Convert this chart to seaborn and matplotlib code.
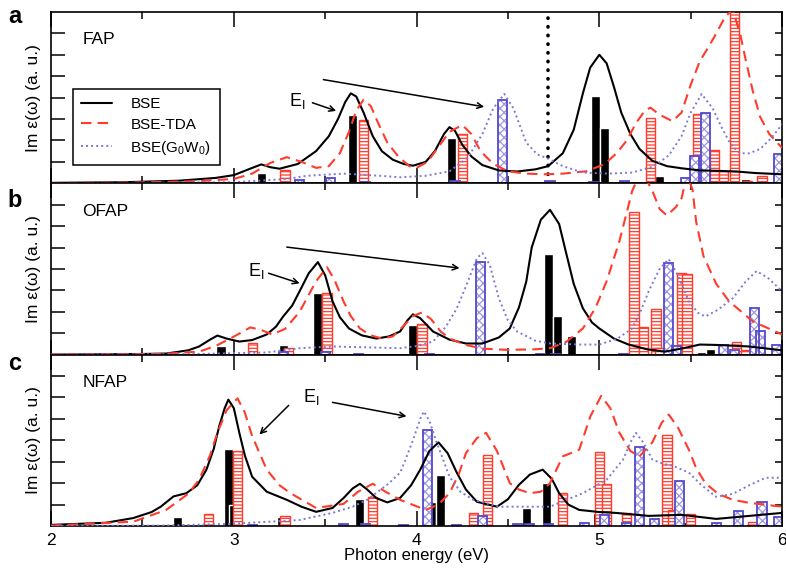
import seaborn as sns
import matplotlib.pyplot as plt
from matplotlib.ticker import MultipleLocator, FixedLocator

sns.set_style('ticks')
plt.rcParams['font.family'] = ['Liberation Sans', 'DejaVu Sans']
plt.rcParams['hatch.linewidth'] = 0.9
plt.rcParams['mathtext.fontset'] = 'custom'
plt.rcParams['mathtext.rm'] = 'Liberation Sans'
for key in ['text.color', 'axes.labelcolor', 'xtick.color', 'ytick.color', 'axes.edgecolor']:
    plt.rcParams[key] = 'black'

RED = '#ff3b2b'
BLUE_LINE = '#7c78d8'
BLUE_BAR = '#5448cc'
BLUE_HATCH = '#9c97e2'

# ---- panel a (FAP) ----
a_bse_x = [2.0, 2.4, 2.7, 2.9, 3.0, 3.08, 3.15, 3.2, 3.25, 3.35, 3.45, 3.52, 3.57, 3.61, 3.64, 3.67, 3.71,
           3.76, 3.81, 3.87, 3.93, 3.98, 4.05, 4.1, 4.15, 4.18, 4.21, 4.25, 4.3, 4.36, 4.45, 4.55, 4.65,
           4.72, 4.8, 4.86, 4.91, 4.95, 5.0, 5.04, 5.08, 5.12, 5.17, 5.22, 5.29, 5.37, 5.45, 5.55, 5.65,
           5.75, 5.85, 6.0]
a_bse_y = [0.02, 0.05, 0.12, 0.25, 0.38, 0.65, 0.88, 0.75, 0.68, 0.9, 1.5, 2.2, 3.0, 3.8, 4.2, 4.05, 3.3,
           2.2, 1.5, 1.1, 0.9, 0.82, 1.0, 1.5, 2.3, 2.62, 2.45, 1.8, 1.25, 0.85, 0.6, 0.55, 0.65,
           0.8, 1.4, 2.5, 4.2, 5.4, 6.0, 5.6, 4.5, 3.3, 2.3, 1.6, 1.05, 0.8, 0.7, 0.6, 0.58,
           0.55, 0.48, 0.42]
a_tda_x = [2.0, 2.5, 2.8, 3.0, 3.1, 3.2, 3.29, 3.37, 3.45, 3.52, 3.58, 3.63, 3.67, 3.71, 3.75, 3.79, 3.84,
           3.9, 3.96, 4.0, 4.06, 4.12, 4.18, 4.25, 4.3, 4.35, 4.42, 4.5, 4.6, 4.7, 4.8, 4.93, 5.03, 5.1,
           5.15, 5.2, 5.25, 5.28, 5.33, 5.4, 5.45, 5.5, 5.55, 5.6, 5.64, 5.69, 5.73, 5.77, 5.8, 5.84,
           5.88, 5.93, 6.0]
a_tda_y = [0.01, 0.04, 0.1, 0.2, 0.45, 0.95, 1.22, 1.0, 0.72, 0.8, 1.4, 2.4, 3.4, 3.9, 3.6, 2.8, 1.9,
           1.25, 0.8, 0.72, 1.0, 1.7, 2.4, 2.72, 2.3, 1.5, 0.9, 0.56, 0.45, 0.42, 0.45, 0.56, 0.9, 1.45,
           2.0, 2.8, 3.4, 3.53, 3.2, 2.9, 3.3, 4.6, 5.7, 6.4, 7.0, 7.8, 8.1, 7.0, 5.8, 4.3,
           3.1, 2.3, 1.65]
a_gw_x = [2.0, 3.0, 3.29, 3.4, 3.6, 3.8, 3.91, 4.05, 4.18, 4.28, 4.36, 4.42, 4.48, 4.53, 4.6, 4.66, 4.72,
          4.8, 4.91, 5.05, 5.18, 5.3, 5.38, 5.45, 5.5, 5.56, 5.62, 5.67, 5.72, 5.77, 5.82, 5.88, 5.94, 6.0]
a_gw_y = [0.0, 0.05, 0.2, 0.35, 0.45, 0.35, 0.28, 0.35, 0.56, 1.2, 2.3, 3.5, 4.17, 3.5, 1.9, 1.35, 1.15,
          0.8, 0.5, 0.45, 0.5, 0.8, 1.3, 2.2, 3.3, 4.17, 3.5, 2.6, 1.8, 1.4, 1.4, 1.6, 2.1, 2.75]
a_bar_bse_x = [3.15, 3.65, 4.19, 4.98, 5.03, 5.33, 5.80, 5.85]
a_bar_bse_h = [0.47, 3.17, 2.13, 4.08, 2.6, 0.33, 0.19, 0.1]
a_bar_tda_x = [3.28, 3.71, 4.25, 5.28, 5.54, 5.63, 5.68, 5.74, 5.81, 5.89]
a_bar_tda_h = [0.6, 2.95, 2.3, 3.05, 3.22, 1.55, 0.56, 8.5, 0.1, 0.33]
a_bar_gw_x = [3.36, 3.53, 3.72, 4.21, 4.47, 4.73, 4.97, 5.14, 5.47, 5.52, 5.58, 5.98]
a_bar_gw_h = [0.14, 0.25, 0.05, 0.1, 3.9, 0.12, 0.05, 0.12, 0.25, 1.27, 3.3, 1.35]

# ---- panel b (OFAP) ----
b_bse_x = [2.0, 2.5, 2.63, 2.75, 2.81, 2.87, 2.91, 2.96, 3.03, 3.1, 3.18, 3.23, 3.27, 3.32, 3.36, 3.41,
           3.46, 3.5, 3.54, 3.58, 3.63, 3.7, 3.78, 3.85, 3.91, 3.95, 3.98, 4.02, 4.09, 4.18, 4.27, 4.36,
           4.45, 4.51, 4.56, 4.6, 4.63, 4.68, 4.73, 4.78, 4.82, 4.86, 4.91, 4.96, 5.0, 5.08, 5.16, 5.26,
           5.36, 5.46, 5.55, 5.65, 5.82, 6.0]
b_bse_y = [0.0, 0.03, 0.05, 0.2, 0.38, 0.7, 0.89, 0.75, 0.61, 0.68, 0.94, 1.3, 1.78, 2.3, 2.96, 3.8,
           4.32, 3.7, 2.49, 1.75, 1.22, 0.9, 0.75, 0.85, 1.08, 1.6, 1.88, 1.7, 1.08, 0.7, 0.52, 0.52,
           0.8, 1.22, 2.2, 3.4, 5.0, 6.3, 6.76, 6.1, 4.69, 3.3, 2.16, 1.5, 1.22, 0.75, 0.47, 0.25,
           0.14, 0.3, 0.47, 0.45, 0.38, 0.2]
b_tda_x = [2.0, 2.6, 2.81, 2.9, 3.0, 3.09, 3.15, 3.21, 3.28, 3.36, 3.45, 3.51, 3.55, 3.6, 3.64, 3.69,
           3.75, 3.81, 3.87, 3.93, 3.98, 4.03, 4.08, 4.13, 4.18, 4.27, 4.36, 4.5, 4.65, 4.73, 4.82, 4.91,
           4.98, 5.04, 5.11, 5.18, 5.23, 5.29, 5.33, 5.37, 5.42, 5.45, 5.48, 5.51, 5.53, 5.57, 5.64,
           5.71, 5.84, 6.0]
b_tda_y = [0.0, 0.03, 0.14, 0.4, 0.84, 1.27, 1.15, 0.94, 1.2, 2.0, 3.43, 4.08, 3.5, 2.49, 1.8, 1.22,
           0.9, 0.75, 0.85, 1.35, 1.8, 1.97, 1.65, 1.1, 0.75, 0.45, 0.28, 0.22, 0.25, 0.3, 0.6, 1.22,
           2.2, 3.43, 5.3, 7.65, 8.6, 7.65, 6.8, 6.5, 6.9, 7.3, 8.4, 7.7, 6.2, 4.6, 3.3,
           2.49, 1.55, 0.94]
b_gw_x = [2.0, 2.8, 3.18, 3.36, 3.54, 3.91, 4.0, 4.09, 4.16, 4.22, 4.28, 4.33, 4.36, 4.4, 4.45, 4.5,
          4.55, 4.65, 4.73, 4.9, 5.0, 5.1, 5.18, 5.23, 5.27, 5.33, 5.38, 5.43, 5.49, 5.54, 5.58, 5.65,
          5.73, 5.8, 5.86, 5.92, 6.0]
b_gw_y = [0.0, 0.03, 0.1, 0.3, 0.38, 0.3, 0.4, 0.61, 1.3, 2.16, 3.4, 4.5, 4.74, 4.2, 2.63, 1.6,
          1.08, 0.65, 0.52, 0.47, 0.47, 0.75, 1.22, 2.1, 2.96, 4.0, 4.46, 3.7, 2.49, 1.95, 1.78, 2.1,
          2.63, 3.4, 3.9, 3.6, 2.96]
b_bar_bse_x = [2.93, 3.27, 3.46, 3.98, 4.72, 4.77, 4.85, 5.56, 5.61]
b_bar_bse_h = [0.42, 0.47, 2.9, 1.36, 4.7, 1.78, 0.89, 0.1, 0.25]
b_bar_tda_x = [3.10, 3.30, 3.51, 4.03, 5.19, 5.24, 5.31, 5.33, 5.45, 5.48, 5.75, 5.80]
b_bar_tda_h = [0.56, 0.3, 2.86, 1.45, 6.67, 1.27, 2.11, 0.3, 3.8, 3.75, 0.61, 0.2]
b_bar_gw_x = [3.27, 3.50, 3.68, 4.07, 4.35, 4.68, 4.76, 5.13, 5.38, 5.42, 5.68, 5.74, 5.85, 5.88, 5.97]
b_bar_gw_h = [0.1, 0.1, 0.05, 0.05, 4.32, 0.05, 0.05, 0.05, 4.27, 0.42, 0.47, 0.2, 2.16, 1.08, 0.47]

# ---- panel c (NFAP) ----
c_bse_x = [2.0, 2.3, 2.45, 2.55, 2.6, 2.67, 2.74, 2.8, 2.85, 2.89, 2.92, 2.95, 2.97, 3.0, 3.03, 3.06,
           3.1, 3.18, 3.29, 3.37, 3.45, 3.54, 3.6, 3.65, 3.69, 3.73, 3.78, 3.84, 3.91, 3.97, 4.02, 4.07,
           4.12, 4.17, 4.22, 4.27, 4.33, 4.44, 4.5, 4.56, 4.62, 4.69, 4.74, 4.78, 4.83, 4.89, 5.0, 5.09,
           5.27, 5.45, 5.64, 5.82, 6.0]
c_bse_y = [0.05, 0.15, 0.37, 0.65, 0.9, 1.38, 1.53, 1.9, 2.63, 3.6, 4.66, 5.5, 5.9, 5.5, 4.35, 3.3,
           2.3, 1.6, 1.22, 0.9, 0.66, 0.84, 1.3, 1.75, 1.97, 1.7, 1.3, 1.1, 1.31, 1.9, 2.63, 3.5,
           3.9, 3.4, 2.49, 1.7, 1.13, 0.9, 1.25, 1.92, 2.4, 2.63, 2.2, 1.53, 1.0, 0.75, 0.65, 0.61,
           0.47, 0.52, 0.33, 0.47, 0.61]
c_tda_x = [2.0, 2.45, 2.63, 2.75, 2.81, 2.87, 2.91, 2.96, 3.02, 3.06, 3.1, 3.18, 3.25, 3.31, 3.45, 3.6,
           3.68, 3.76, 3.83, 3.91, 4.05, 4.12, 4.18, 4.23, 4.27, 4.33, 4.38, 4.44, 4.51, 4.56, 4.62,
           4.68, 4.73, 4.8, 4.89, 4.95, 5.01, 5.06, 5.11, 5.17, 5.22, 5.29, 5.34, 5.38, 5.43, 5.49,
           5.53, 5.58, 5.65, 5.73, 5.82, 6.0]
c_tda_y = [0.02, 0.2, 0.75, 1.5, 2.16, 3.3, 4.35, 5.4, 5.96, 5.3, 4.2, 2.63, 1.9, 1.53, 0.84, 1.03,
           1.6, 1.97, 1.6, 1.22, 0.75, 1.0, 1.53, 2.4, 3.4, 4.1, 4.35, 3.5, 2.0, 1.7, 1.53,
           1.6, 2.0, 3.25, 3.56, 5.1, 6.07, 5.5, 4.35, 3.5, 3.25, 3.9, 4.8, 5.2, 4.6, 3.56,
           2.7, 2.0, 1.5, 1.22, 1.08, 0.9]
c_gw_x = [2.0, 2.6, 2.99, 3.36, 3.54, 3.65, 3.73, 3.85, 3.91, 3.94, 3.98, 4.02, 4.04, 4.07, 4.11, 4.18,
          4.24, 4.31, 4.45, 4.6, 4.73, 4.91, 5.04, 5.13, 5.17, 5.2, 5.24, 5.29, 5.35, 5.4, 5.49, 5.56,
          5.64, 5.73, 5.82, 5.91, 6.0]
c_gw_y = [0.0, 0.02, 0.1, 0.28, 0.61, 0.9, 1.22, 2.0, 2.49, 3.1, 4.0, 5.0, 5.35, 4.9, 3.9, 2.3,
          1.6, 1.22, 0.9, 0.9, 0.9, 1.53, 2.16, 3.1, 3.9, 4.35, 3.9, 3.1, 2.9, 2.82, 2.49, 1.9,
          1.36, 1.5, 1.9, 2.25, 2.25]
c_bar_bse_x = [2.69, 2.97, 3.00, 3.12, 3.26, 3.69, 4.08, 4.13, 4.60, 4.71, 4.99, 5.47, 5.83]
c_bar_bse_h = [0.42, 3.6, 1.0, 0.05, 0.4, 1.27, 1.13, 2.4, 0.84, 2.0, 0.6, 0.2, 0.1]
c_bar_tda_x = [2.86, 3.02, 3.28, 3.76, 4.31, 4.39, 4.80, 5.00, 5.04, 5.15, 5.37, 5.40, 5.50, 5.84]
c_bar_tda_h = [0.56, 3.52, 0.47, 1.36, 0.61, 3.3, 1.53, 3.47, 1.97, 0.6, 4.27, 0.75, 0.56, 0.2]
c_bar_gw_x = [3.1, 3.6, 3.72, 3.93, 4.06, 4.22, 4.36, 4.55, 4.62, 4.72, 4.92, 5.03, 5.15, 5.22, 5.30,
              5.44, 5.64, 5.76, 5.89, 5.98]
c_bar_gw_h = [0.05, 0.1, 0.1, 0.05, 4.5, 0.05, 0.47, 0.1, 0.1, 0.1, 0.15, 0.52, 0.15, 3.7, 0.33,
              2.1, 0.15, 0.7, 1.13, 0.4]

panel_names = ['FAP', 'OFAP', 'NFAP']
panel_letters = ['a', 'b', 'c']
series_labels = ['BSE', 'BSE-TDA', r'BSE(G$_0$W$_0$)']
x_ticks = [2, 3, 4, 5, 6]

panels = [
    (a_bse_x, a_bse_y, a_tda_x, a_tda_y, a_gw_x, a_gw_y,
     a_bar_bse_x, a_bar_bse_h, a_bar_tda_x, a_bar_tda_h, a_bar_gw_x, a_bar_gw_h),
    (b_bse_x, b_bse_y, b_tda_x, b_tda_y, b_gw_x, b_gw_y,
     b_bar_bse_x, b_bar_bse_h, b_bar_tda_x, b_bar_tda_h, b_bar_gw_x, b_bar_gw_h),
    (c_bse_x, c_bse_y, c_tda_x, c_tda_y, c_gw_x, c_gw_y,
     c_bar_bse_x, c_bar_bse_h, c_bar_tda_x, c_bar_tda_h, c_bar_gw_x, c_bar_gw_h),
]

fig, axes = plt.subplots(3, 1, sharex=True, figsize=(7.86, 5.68), dpi=100)
fig.subplots_adjust(left=0.065, right=0.995, top=0.979, bottom=0.074, hspace=0)

bw = 0.05
for i, ax in enumerate(axes):
    (bx, by, tx, ty, gx, gy, kbx, kbh, rbx, rbh, gbx, gbh) = panels[i]
    ax.bar(kbx, kbh, width=bw, color='black', zorder=2)
    ax.bar(rbx, rbh, width=bw, facecolor='white', edgecolor=RED, hatch='-----', lw=1.0, zorder=2)
    # light checker fill first, then the darker outline on top
    ax.bar(gbx, gbh, width=bw, facecolor='white', edgecolor=BLUE_HATCH, hatch='xxxx', lw=0, zorder=2)
    ax.bar(gbx, gbh, width=bw, fill=False, edgecolor=BLUE_BAR, lw=1.3, zorder=2)
    sns.lineplot(x=bx, y=by, ax=ax, color='black', lw=1.5, label=series_labels[0], zorder=3)
    sns.lineplot(x=tx, y=ty, ax=ax, color=RED, lw=1.5, linestyle=(0, (5, 3)),
                 label=series_labels[1], zorder=3)
    sns.lineplot(x=gx, y=gy, ax=ax, color=BLUE_LINE, lw=1.4, linestyle=(0, (1, 1.6)),
                 label=series_labels[2], zorder=3)

    ax.set_xlim(2, 6)
    ax.set_ylim(0, 8)
    ax.set_xticks(x_ticks)
    ax.xaxis.set_minor_locator(MultipleLocator(0.5))
    ax.set_yticks([1, 2, 3, 4, 5, 6, 7])
    ax.yaxis.set_minor_locator(FixedLocator([1, 2, 3, 4, 5, 6, 7]))
    ax.yaxis.remove_overlapping_locs = False
    ax.set_yticklabels([])
    ax.tick_params(axis='x', which='major', direction='in', top=True, bottom=True,
                   length=10.5, width=1.1, labelsize=12.5, pad=5)
    ax.tick_params(axis='x', which='minor', direction='in', top=True, bottom=True,
                   length=5, width=1.1)
    ax.tick_params(axis='y', which='major', direction='in', left=True, right=False,
                   length=10, width=1.1)
    ax.tick_params(axis='y', which='minor', direction='in', left=False, right=True,
                   length=5, width=1.1)
    for s in ax.spines.values():
        s.set_linewidth(1.2)
    ax.set_ylabel('Im ε(ω) (a. u.)', fontsize=12.5, labelpad=4)
    ax.text(2.17, 6.7, panel_names[i], fontsize=12.5, va='center', ha='left')
    if ax.get_legend() is not None:
        ax.get_legend().remove()

axes[0].axvline(4.72, color='black', ls=(0, (0.1, 2.3)), lw=2.6, dash_capstyle='round', zorder=1)

h, l = axes[0].get_legend_handles_labels()
axes[0].legend(h, l, loc='lower left', bbox_to_anchor=(0.03, 0.106), borderaxespad=0,
               fontsize=11, frameon=True, fancybox=False, edgecolor='black', framealpha=1,
               handlelength=2.0, handletextpad=1.2, labelspacing=0.45, borderpad=0.55
               ).get_frame().set_linewidth(1.1)

arrow = dict(arrowstyle='->', color='black', lw=1.1, shrinkA=0, shrinkB=0)
ei = r'E$_\mathrm{I}$'
axes[0].text(3.30, 3.85, ei, fontsize=13, va='center')
axes[0].annotate('', xy=(3.56, 3.38), xytext=(3.43, 3.76), arrowprops=arrow)
axes[0].annotate('', xy=(4.37, 3.57), xytext=(3.49, 4.84), arrowprops=arrow)
axes[1].text(3.08, 3.9, ei, fontsize=13, va='center')
axes[1].annotate('', xy=(3.36, 3.33), xytext=(3.19, 3.8), arrowprops=arrow)
axes[1].annotate('', xy=(4.235, 4.04), xytext=(3.29, 5.02), arrowprops=arrow)
axes[2].text(3.38, 6.0, ei, fontsize=13, va='center')
axes[2].annotate('', xy=(3.14, 4.27), xytext=(3.30, 5.63), arrowprops=arrow)
axes[2].annotate('', xy=(3.945, 5.12), xytext=(3.54, 5.77), arrowprops=arrow)

axes[2].set_xlabel('Photon energy (eV)', fontsize=12, labelpad=0)

for letter, yb in zip(panel_letters, [23, 207, 370]):
    fig.text(0.010, 1 - yb / 568, letter, fontsize=17, fontweight='bold', va='baseline')

fig.savefig('out.png', dpi=100)
